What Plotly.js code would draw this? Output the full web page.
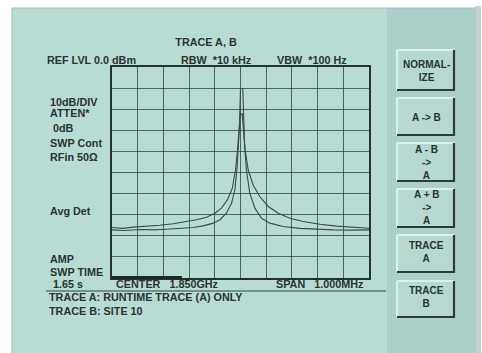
<!DOCTYPE html>
<html><head><meta charset="utf-8">
<script src="https://cdn.plot.ly/plotly-3.0.1.min.js"></script>
<style>html,body{margin:0;padding:0;background:#fff;}#chart{width:482px;height:353px;}</style>
</head><body><div id="chart"></div>
<script>
// Frequency offset from center (kHz) and level (dBm)
const freqA = [-500,-451,-392,-340,-288,-236,-184,-145,-106,-80,-55,-35,-22,-13,-8,-4,-1.3,0,9,12,15.6,23,36,56,82,114,166,231,296,361,426,500];
const levelA = [-77.2,-77.5,-77.0,-77.2,-76.9,-76.5,-76.1,-75.3,-74.0,-72.4,-69.3,-64.6,-58.3,-47.2,-37.8,-28.3,-15.7,-10.2,-10.2,-23.6,-36.2,-48.8,-59.8,-66.9,-71.7,-74.0,-75.6,-76.5,-77.0,-77.2,-77.3,-77.2];
const freqB = [-500,-457,-418,-366,-314,-262,-210,-171,-132,-100,-74,-51,-32,-19.5,-11.7,-5,-1.3,6.5,12,18,30,49,75,108,147,192,244,309,374,439,500];
const levelB = [-76.1,-76.5,-75.9,-75.6,-75.0,-74.3,-73.4,-72.4,-71.2,-69.3,-66.9,-63.0,-57.5,-48.8,-39.4,-29.9,-22.8,-22.0,-31.5,-39.4,-48.8,-55.9,-61.4,-66.1,-69.3,-71.7,-73.2,-74.5,-75.4,-75.9,-76.4];
const headerLabels = ["REF LVL 0.0 dBm","RBW  *10 kHz","VBW  *100 Hz"];
const sideLabels = ["10dB/DIV","ATTEN*"," 0dB","SWP Cont","RFin 50Ω","Avg Det","AMP","SWP TIME"," 1.65 s"];
const footerLabels = ["CENTER   1.850GHz","SPAN   1.000MHz"];
const noteLabels = ["TRACE A: RUNTIME TRACE (A) ONLY","TRACE B: SITE 10"];
const buttonLabels = ["NORMAL-<br>IZE","A -> B","A - B<br>-><br>A","A + B<br>-><br>A","TRACE<br>A","TRACE<br>B"];

// pixel helpers for plot area (x 112..369, y 67..278)
const L=112,R=369,T=67,B=278;
const px = x => (x-L)/(R-L);
const py = y => (B-y)/(B-T);
const txt = '#2a3331';
const F = {family:'Liberation Sans, Arial, sans-serif', size:10.8, color:txt, weight:'bold'};

const shapes = [];
function rect(x0,y0,x1,y1,fill,line){shapes.push({type:'rect',xref:'paper',yref:'paper',x0:px(x0),x1:px(x1),y0:py(y1),y1:py(y0),fillcolor:fill,line:line||{width:0},layer:'below'});}
function seg(x0,y0,x1,y1,color,w,layer){shapes.push({type:'line',xref:'paper',yref:'paper',x0:px(x0),x1:px(x1),y0:py(y0),y1:py(y1),line:{color:color,width:w},layer:layer||'above'});}
// shadow & panels
rect(475,6,481,353,'#c9cfcd');
rect(12,8,387,353,'#b8dcd4');
rect(387,8,476,353,'#abd0c9');
seg(12,8,476,8,'#9fbdb7',1,'below');
seg(12,8,12,353,'#9fbdb7',1,'below');
// buttons
const btnY = [[50,90],[98,135],[143,181],[189,227],[235,272],[281,317]];
btnY.forEach(([y0,y1])=>{
  rect(397,y0,454,y1,'#b6d8d1');
  seg(397,y0,454,y0,'#dcefeb',2,'below');
  seg(397,y0,397,y1,'#dcefeb',2,'below');
  seg(454,y0,454,y1+1,'#2f3b39',2.2,'below');
  seg(397,y1,454,y1,'#2f3b39',2.2,'below');
});
// separator line & sweep bar
seg(46,291,386,291,'#33403e',1.2);
seg(112,277.5,182,277.5,'#1f2725',3);

const ann = [];
function A(t,x,y,opt){ann.push(Object.assign({text:t,xref:'paper',yref:'paper',x:px(x),y:py(y),xanchor:'left',yanchor:'middle',showarrow:false,font:F},opt||{}));}
A(headerLabels[0],45,60);
A(headerLabels[1],179,60);
A(headerLabels[2],275,60);
const sideY=[102,113,128,143,157,211,259,272,284];
sideLabels.forEach((t,i)=>A(t,48,sideY[i]));
A(footerLabels[0],114,284);
A(footerLabels[1],274,284);
A(noteLabels[0],47,297);
A(noteLabels[1],47,311);
const btnTextY=[70.5,117,162,207,252,297];
buttonLabels.forEach((t,i)=>A(t,426,btnTextY[i],{xanchor:'center',font:Object.assign({},F,{size:10}),align:'center'}));

const lineStyle={color:'#3b4947',width:1.1};
const data=[
  {x:freqA,y:levelA,type:'scatter',mode:'lines',name:'TRACE A',line:lineStyle,hoverinfo:'skip'},
  {x:freqB,y:levelB,type:'scatter',mode:'lines',name:'TRACE B',line:lineStyle,hoverinfo:'skip'}
];
const axisCommon={showticklabels:false,ticks:'',showgrid:true,gridcolor:'rgba(40,60,58,0.75)',gridwidth:1,zeroline:false,showline:true,linecolor:'#263230',linewidth:1.6,mirror:true,fixedrange:true};
const layout={
  width:482,height:353,
  margin:{l:L,r:482-R,t:T,b:353-B,pad:0},
  paper_bgcolor:'#ffffff',plot_bgcolor:'rgba(0,0,0,0)',
  showlegend:false,
  title:{text:'TRACE A, B',x:206/482,xref:'container',xanchor:'center',y:1-42/353,yref:'container',yanchor:'middle',font:F},
  xaxis:Object.assign({range:[-500,500],dtick:100,tick0:-500},axisCommon),
  yaxis:Object.assign({range:[-100,0],dtick:10,tick0:0},axisCommon),
  shapes:shapes,annotations:ann
};
Plotly.newPlot('chart',data,layout,{staticPlot:true,displayModeBar:false});
</script></body></html>
